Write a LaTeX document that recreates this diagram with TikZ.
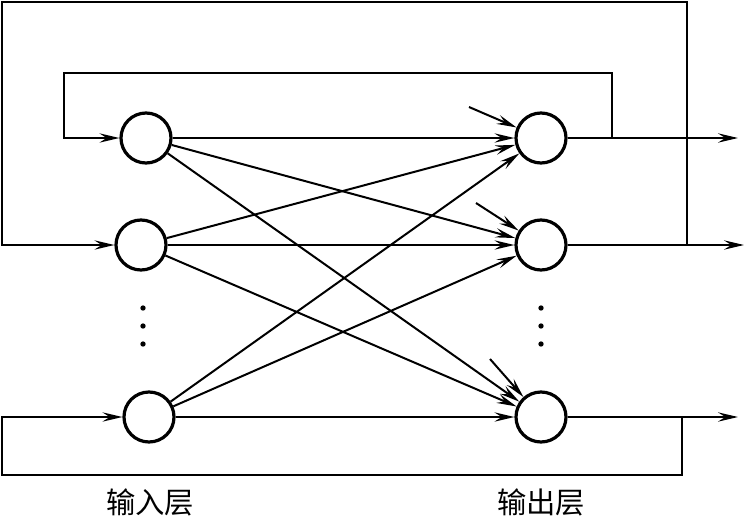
\documentclass[tikz,border=0pt]{standalone}
\usepackage{fontspec}
\newfontfamily\cjk{Noto Sans CJK SC}
\usetikzlibrary{arrows.meta, positioning, calc}
\tikzset{
  >=Stealth,
  flowarrow/.style={-{Stealth[length=15pt, width=7pt, inset=5.5pt]}, line width=1.5pt, black},
  neuron/.style={circle, draw=black, line width=2.4pt, minimum size=37.5pt, inner sep=0pt},
  layerlabel/.style={font=\cjk\fontsize{22}{26}\selectfont}
}

\begin{document}
\begin{tikzpicture}[x=0.75pt, y=-0.75pt]
    \useasboundingbox (0,0) rectangle (745,517);

    % input layer
    \node[neuron] (in1) at (146,138) {};
    \node[neuron] (in2) at (141,245) {};
    \node[neuron] (in3) at (149,417) {};

    % output layer
    \node[neuron] (out1) at (541,138) {};
    \node[neuron] (out2) at (541,245) {};
    \node[neuron] (out3) at (541,417) {};

    % dots between the neurons
    \fill (143,308) circle (2pt) (143,326) circle (2pt) (143,344) circle (2pt);
    \fill (541,308) circle (2pt) (541,326) circle (2pt) (541,344) circle (2pt);

    % full connection, input -> output
    \draw[flowarrow] (in1) -- (out1);
    \draw[flowarrow] (in1) -- (out2);
    \draw[flowarrow] (in1) -- (out3);
    \draw[flowarrow] (in2) -- (out1);
    \draw[flowarrow] (in2) -- (out2);
    \draw[flowarrow] (in2) -- (out3);
    \draw[flowarrow] (in3) -- (out1);
    \draw[flowarrow] (in3) -- (out2);
    \draw[flowarrow] (in3) -- (out3);

    % outside inputs of the output neurons
    \coordinate (ext1) at (469,107);
    \coordinate (ext2) at (476,203);
    \coordinate (ext3) at (490,359);
    \draw[flowarrow] (ext1) -- (out1);
    \draw[flowarrow] (ext2) -- (out2);
    \draw[flowarrow] (ext3) -- (out3);

    % outputs
    \coordinate (res1) at (738,138);
    \coordinate (res2) at (744,245);
    \coordinate (res3) at (738,417);
    \draw[flowarrow] (out1) -- (res1);
    \draw[flowarrow] (out2) -- (res2);
    \draw[flowarrow] (out3) -- (res3);

    % feedback loops
    \coordinate (fb1r) at (612,73);
    \coordinate (fb1l) at (64,73);
    \draw[flowarrow] (out1) -| (fb1r) -- (fb1l) |- (in1);

    \coordinate (fb2r) at (687,2);
    \coordinate (fb2l) at (2,2);
    \draw[flowarrow] (out2) -| (fb2r) -- (fb2l) |- (in2);

    \coordinate (fb3r) at (682,475);
    \coordinate (fb3l) at (2,475);
    \draw[flowarrow] (out3) -| (fb3r) -- (fb3l) |- (in3);

    % layer names
    \node[layerlabel] (inlabel) at (150,502) {输入层};
    \node[layerlabel] (outlabel) at (541,502) {输出层};
\end{tikzpicture}
\end{document}
